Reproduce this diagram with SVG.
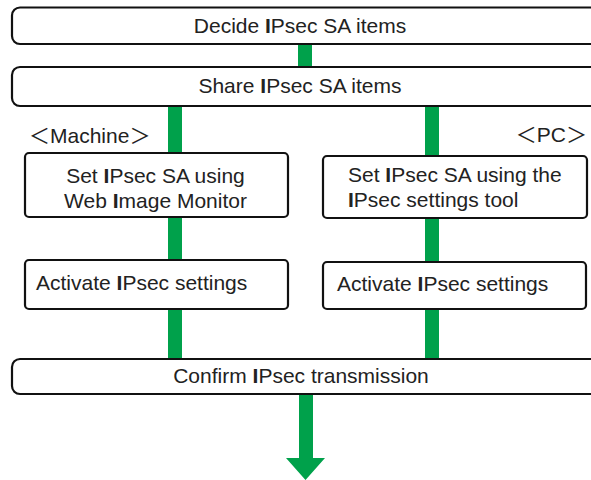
<svg xmlns="http://www.w3.org/2000/svg" width="591" height="480" viewBox="0 0 591 480">
<style>
.wide{fill:#fff;stroke:#111;stroke-width:2.2}
.box{fill:#fff;stroke:#111;stroke-width:2.2}
.t{font-family:"Liberation Sans",Arial,sans-serif;font-size:21px;fill:#222}
.c{text-anchor:middle}
.b{font-weight:bold}
.g{fill:#00A14B}
.lab{font-family:"Liberation Sans","Noto Sans CJK JP",sans-serif;font-size:21px;fill:#222}
</style>
<g id="connectors">
<rect class="g" x="298" y="44" width="14" height="23"/>
<rect class="g" x="168" y="106" width="14" height="253"/>
<rect class="g" x="425" y="106" width="14" height="253"/>
<polygon class="g" points="299,394 313,394 313,458 325,458 305.5,480 286,458 299,458"/>
</g>
<g id="decide">
<rect class="wide" x="12" y="7.5" width="600" height="36.5" rx="8"/>
<text class="t c" x="300" y="33">Decide <tspan class="b">I</tspan>Psec SA items</text>
</g>
<g id="share">
<rect class="wide" x="12" y="67" width="600" height="39" rx="8"/>
<text class="t c" x="300" y="93">Share <tspan class="b">I</tspan>Psec SA items</text>
</g>
<g id="machine-label">
<text class="lab" x="29" y="143">＜Machine＞</text>
</g>
<g id="pc-label">
<text class="lab" x="587" y="142" text-anchor="end">＜PC＞</text>
</g>
<g id="set-machine">
<rect class="box" x="25" y="153" width="263" height="64" rx="4"/>
<text class="t c" x="155.5" y="183">Set <tspan class="b">I</tspan>Psec SA using</text>
<text class="t c" x="155.5" y="208">Web <tspan class="b">I</tspan>mage Monitor</text>
</g>
<g id="activate-machine">
<rect class="box" x="25" y="260" width="263" height="49" rx="4"/>
<text class="t" x="36" y="290">Activate <tspan class="b">I</tspan>Psec settings</text>
</g>
<g id="set-pc">
<rect class="box" x="323" y="156" width="264" height="62" rx="4"/>
<text class="t" x="348" y="182">Set <tspan class="b">I</tspan>Psec SA using the</text>
<text class="t" x="348" y="207"><tspan class="b">I</tspan>Psec settings tool</text>
</g>
<g id="activate-pc">
<rect class="box" x="323" y="262" width="263" height="47" rx="4"/>
<text class="t" x="337" y="291">Activate <tspan class="b">I</tspan>Psec settings</text>
</g>
<g id="confirm">
<rect class="wide" x="12" y="359" width="600" height="35" rx="8"/>
<text class="t c" x="301" y="383">Confirm <tspan class="b">I</tspan>Psec transmission</text>
</g>
</svg>
